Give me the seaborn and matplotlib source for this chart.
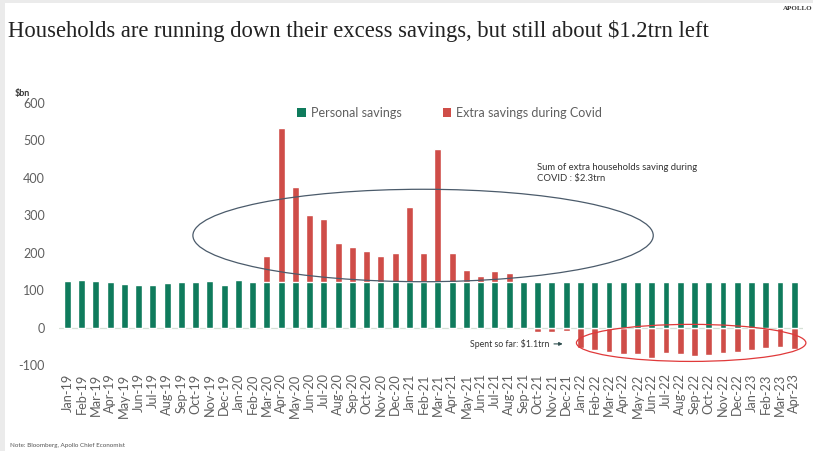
import matplotlib
matplotlib.use("Agg")
import matplotlib.pyplot as plt
from matplotlib.patches import Ellipse, Patch, Rectangle
import numpy as np
import pandas as pd
import seaborn as sns

# Monthly household savings, $bn
months = [
    "Jan-19", "Feb-19", "Mar-19", "Apr-19", "May-19", "Jun-19", "Jul-19", "Aug-19",
    "Sep-19", "Oct-19", "Nov-19", "Dec-19", "Jan-20", "Feb-20", "Mar-20", "Apr-20",
    "May-20", "Jun-20", "Jul-20", "Aug-20", "Sep-20", "Oct-20", "Nov-20", "Dec-20",
    "Jan-21", "Feb-21", "Mar-21", "Apr-21", "May-21", "Jun-21", "Jul-21", "Aug-21",
    "Sep-21", "Oct-21", "Nov-21", "Dec-21", "Jan-22", "Feb-22", "Mar-22", "Apr-22",
    "May-22", "Jun-22", "Jul-22", "Aug-22", "Sep-22", "Oct-22", "Nov-22", "Dec-22",
    "Jan-23", "Feb-23", "Mar-23", "Apr-23",
]
personal_savings = [
    124, 128, 124, 121, 117, 115, 114, 119, 122, 123, 124, 114, 127, 122,
    121, 121, 121, 121, 121, 121, 121, 121, 121, 121, 121, 121, 121, 121,
    121, 121, 121, 121, 121, 121, 121, 121, 121, 121, 121, 121, 121, 121,
    121, 121, 121, 121, 121, 121, 121, 121, 121, 121,
]
extra_savings = [
    0, 0, 0, 0, 0, 0, 0, 0, 0, 0, 0, 0, 0, 0,
    69, 413, 254, 179, 168, 105, 93, 83, 71, 78, 201, 77, 357, 77, 34, 18, 31, 25,
    0,
    -12, -12, -8, -55, -60, -66, -71, -72, -82, -69, -72, -76, -74, -67, -64,
    -59, -55, -51, -56,
]
y_ticks = [-100, 0, 100, 200, 300, 400, 500, 600]

GREEN = "#0f7b5c"
RED = "#cf4d48"
GREY_TXT = "#5f5f5f"

sns.set_theme(style="white")
plt.rcParams["font.family"] = ["Lato", "DejaVu Sans"]

df = pd.DataFrame({"month": months,
                   "personal": personal_savings,
                   "extra": extra_savings})
# Red bar: stacked on top of personal savings when positive, below zero when drawn down
df["red"] = np.where(df["extra"] > 0, df["personal"] + df["extra"], df["extra"])

fig = plt.figure(figsize=(8.13, 4.51), dpi=100)
fig.patch.set_facecolor("#ebebeb")
fig.add_artist(Rectangle((5 / 813, 0), 1, 1 - 3 / 451, transform=fig.transFigure,
                         facecolor="white", edgecolor="none", zorder=0))

ax = fig.add_axes([0.0723, 0.1783, 0.9151, 0.5933])
ax.set_facecolor("none")

ax.axhline(0, color="#d6e0d6", lw=0.9, zorder=0)
sns.barplot(data=df, x="month", y="red", color=RED, width=0.48, saturation=1,
            ax=ax, zorder=2)
sns.barplot(data=df, x="month", y="personal", color=GREEN, width=0.48, saturation=1,
            ax=ax, zorder=3)

ax.set_xlim(-0.6, len(months) - 0.4)
ax.set_ylim(-115, 600)
ax.set_yticks(y_ticks)
ax.set_yticklabels([str(v) for v in y_ticks], fontsize=9, color=GREY_TXT)
ax.tick_params(axis="y", length=0, pad=10)
ax.tick_params(axis="x", length=0, pad=2)
ax.set_xticks(range(len(months)))
ax.set_xticklabels(months, rotation=90, fontsize=9.2, color=GREY_TXT)
ax.set_xlabel("")
ax.set_ylabel("")
for s in ax.spines.values():
    s.set_visible(False)

# Ellipses highlighting accumulation and drawdown
ax.add_patch(Ellipse((24.96, 246), 32.3, 247, fill=False, edgecolor="#4b5b6b",
                     lw=0.9, zorder=4, clip_on=False))
ax.add_patch(Ellipse((43.77, -41), 16.1, 99, fill=False, edgecolor="#e0393a",
                     lw=0.9, zorder=4, clip_on=False))

ax.text(32.96, 441, "Sum of extra households saving during\nCOVID : $2.3trn",
        fontsize=6.8, color="#333333", va="top", ha="left", linespacing=1.35)
ax.text(28.25, -43.7, "Spent so far: $1.1trn", fontsize=6.3, color="#333333",
        va="center", ha="left")
ax.annotate("", xy=(34.95, -43.7), xytext=(33.95, -43.7),
            arrowprops=dict(arrowstyle="-|>", color="#2f4f4f", lw=0.8,
                            mutation_scale=5))

handles = [Patch(facecolor=GREEN, edgecolor="none", label="Personal savings"),
           Patch(facecolor=RED, edgecolor="none", label="Extra savings during Covid")]
fig.legend(handles=handles, loc="center", bbox_to_anchor=(0.553, 0.749), ncol=2,
           frameon=False, fontsize=9, labelcolor=GREY_TXT, handlelength=0.7,
           handleheight=0.7, handletextpad=0.4, columnspacing=3.3)

fig.text(8 / 813, 1 - 37.5 / 451,
         "Households are running down their excess savings, but still about $1.2trn left",
         family=["Liberation Serif", "DejaVu Serif"], fontsize=16.3, color="#222222",
         va="baseline", ha="left")
fig.text(783 / 813, 1 - 9 / 451, "APOLLO", family=["Liberation Serif", "DejaVu Serif"],
         fontsize=5, color="#333333", va="center", ha="left", weight="bold")
fig.text(15 / 813, 1 - 98 / 451, "$bn", fontsize=6.5, color="#333333", va="bottom",
         ha="left", weight="bold")
fig.text(10 / 813, 1 - 446 / 451, "Note: Bloomberg, Apollo Chief Economist",
         fontsize=4.5, color="#555555", va="center", ha="left")

fig.savefig("out.png", dpi=100)
